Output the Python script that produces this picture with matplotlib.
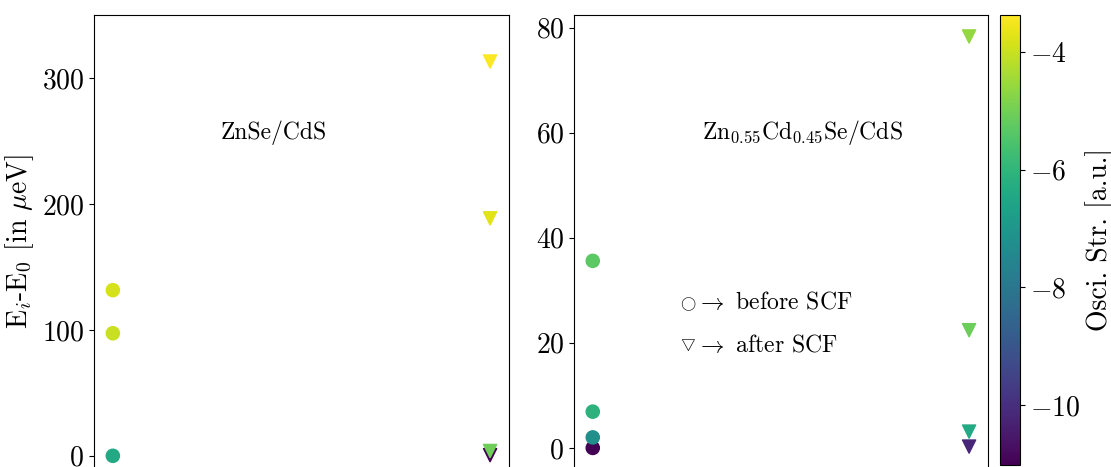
import numpy as np
import matplotlib
matplotlib.use("Agg")
import matplotlib.pyplot as plt

plt.rcParams["font.family"] = "serif"
plt.rcParams["font.serif"] = ["cmr10", "DejaVu Serif"]
plt.rcParams["mathtext.fontset"] = "cm"
plt.rcParams["axes.formatter.use_mathtext"] = True
plt.rcParams["axes.unicode_minus"] = True

# ZnSe/CdS
znse_before_E = [131.5, 97.3, 0.0]
znse_before_osc = [-3.85, -4.0, -6.4]
znse_after_E = [313.0, 188.5, 0.5, 3.8]
znse_after_osc = [-3.4, -3.7, -11.0, -5.05]

# Zn0.55Cd0.45Se/CdS
alloy_before_E = [35.6, 6.9, 0.0, 2.0]
alloy_before_osc = [-5.3, -6.1, -11.0, -7.2]
alloy_after_E = [78.3, 22.4, 3.1, 0.25]
alloy_after_osc = [-4.6, -5.1, -6.4, -10.2]

vmin, vmax = -11.02, -3.37
titles = ["ZnSe/CdS", r"Zn$_{0.55}$Cd$_{0.45}$Se/CdS"]

fig = plt.figure(figsize=(11.11, 4.67), dpi=100)
ax1 = fig.add_axes([0.0846, -0.003, 0.3735, 0.971])
ax2 = fig.add_axes([0.5166, -0.003, 0.3726, 0.971])
cax = fig.add_axes([0.900, 0.0043, 0.018, 0.9636])

panels = [
    (ax1, znse_before_E, znse_before_osc, znse_after_E, znse_after_osc),
    (ax2, alloy_before_E, alloy_before_osc, alloy_after_E, alloy_after_osc),
]
for i, (ax, bE, bO, aE, aO) in enumerate(panels):
    sc = ax.scatter(np.zeros(len(bE)), bE, c=bO, cmap="viridis",
                    vmin=vmin, vmax=vmax, s=90, marker="o")
    ax.scatter(np.ones(len(aE)), aE, c=aO, cmap="viridis",
               vmin=vmin, vmax=vmax, s=90, marker="v")
    ax.set_xlim(-0.05, 1.05)
    ax.set_xticks([])
    ax.tick_params(axis="y", labelsize=20)
    ax.text(0.434 if i == 0 else 0.553, 0.74, titles[i], transform=ax.transAxes,
            ha="center", va="center", fontsize=17)

ax1.set_ylim(-10, 350)
ax1.set_yticks([0, 100, 200, 300])
ax1.set_ylabel(r"E$_i$-E$_0$ [in $\mu$eV]", fontsize=20)

ax2.set_ylim(-3.9, 82.4)
ax2.set_yticks([0, 20, 40, 60, 80])
# legend-like annotation
ax2.text(0.256, 0.362, r"$\bigcirc$", transform=ax2.transAxes,
         ha="left", va="center", fontsize=11)
ax2.text(0.256, 0.272, r"$\bigtriangledown$", transform=ax2.transAxes,
         ha="left", va="center", fontsize=12)
ax2.text(0.294, 0.366, r"$\rightarrow$ before SCF", transform=ax2.transAxes,
         ha="left", va="center", fontsize=17)
ax2.text(0.294, 0.27, r"$\rightarrow$ after SCF", transform=ax2.transAxes,
         ha="left", va="center", fontsize=17)

cb = fig.colorbar(sc, cax=cax)
cb.set_ticks([-4, -6, -8, -10])
cb.ax.tick_params(labelsize=20)
cb.set_label("Osci. Str. [a.u.]", fontsize=20)

fig.savefig("out.png", dpi=100)
